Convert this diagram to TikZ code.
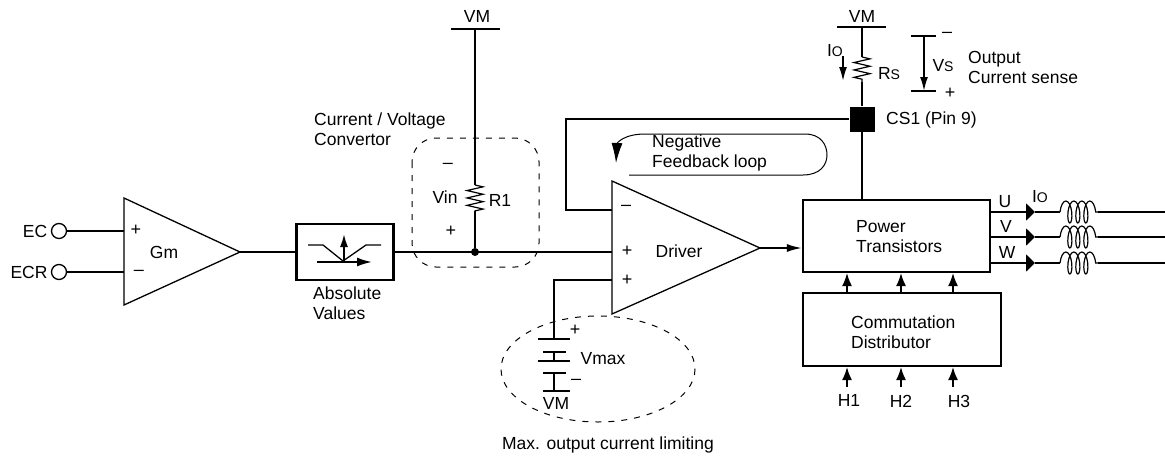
\documentclass[tikz,border=0pt]{standalone}
\usepackage{fontspec}
\setmainfont{Liberation Sans}
\usetikzlibrary{arrows.meta, decorations.pathmorphing}

\tikzset{
	wire/.style={line width=1.8pt},
	thin wire/.style={line width=1.3pt},
	label/.style={inner sep=0pt, text height=12.5pt, text depth=0pt},
	sign/.style={inner sep=0pt, font=\fontsize{18}{18}\selectfont},
	para/.style={inner sep=0pt, anchor=west, align=left},
	ring/.style={dashed, dash pattern=on 6pt off 7pt, line width=1pt},
	resistor/.style={decorate, decoration={zigzag, amplitude=8pt, segment length=7.4pt}, line width=1.2pt},
	inductor/.style={decorate, decoration={coil, aspect=0.35, amplitude=11pt, segment length=8pt}, line width=1.2pt},
	up arrow/.style={wire, -{Latex[length=13pt, width=10pt]}},
}
\newcommand{\lowO}{I{\fontsize{14}{14}\selectfont O}}

\begin{document}
\begin{tikzpicture}[x=1pt, y=-1pt, font=\fontsize{17.5}{20}\selectfont]
	\useasboundingbox (0,0) rectangle (1165,456);

	% input stage
	\coordinate (GmA) at (124,198);
	\coordinate (GmB) at (124,305);
	\coordinate (GmC) at (240,252);
	\draw [thin wire, line join=miter] (GmA) -- (GmC) -- (GmB) -- cycle;
	\node [label] (Gm) at (164,252) {Gm};
	\node [sign] (GmP) at (136,230) {+};
	\node [sign] (GmN) at (139,273) {--};
	\foreach \name/\y/\xl in {EC/231/35, ECR/272/29}{
		\node [circle, draw, thin wire, minimum size=15pt, inner sep=0pt] (\name) at (59,\y) {};
		\node [label] (\name T) at (\xl,\y) {\name};
		\coordinate (\name G) at (124,\y);
		\draw [wire] (\name) -- (\name G);}

	\node [draw, line width=2.2pt, minimum width=97pt, minimum height=56pt, inner sep=0pt] (Abs) at (345,252) {};
	\node [para] (AbsT) at (313,303) {Absolute\\Values};
	\draw [wire] (GmC) -- (Abs);
	\draw [thin wire] (308,245) -- (323,245) -- (343,261) -- (366,245) -- (381,245);
	\draw [wire, -{Latex[length=13pt, width=8pt]}] (344,261) -- (344,234);
	\draw [wire, -{Latex[length=15pt, width=9pt]}] (317,262) -- (372,262);

	% current / voltage convertor
	\node [label] (VMa) at (477,16) {VM};
	\coordinate (VMaL) at (451,29);
	\coordinate (VMaR) at (500,29);
	\coordinate (VMaC) at (475,29);
	\coordinate (RaT) at (475,185);
	\coordinate (RaB) at (475,211);
	\draw [wire] (VMaL) -- (VMaR);
	\draw [wire] (VMaC) -- (RaT);
	\draw [resistor] (RaT) -- (RaB);
	\node [circle, fill, minimum size=8pt, inner sep=0pt] (Sum) at (475,252) {};
	\draw [wire] (RaB) -- (Sum);
	\node [label] (Ra) at (500,200) {R1};
	\node [label] (Vin) at (445,197) {Vin};
	\node [sign] (VinN) at (448,166) {--};
	\node [sign] (VinP) at (451,231) {+};
	\node [para] (ConvT) at (314,129) {Current / Voltage\\Convertor};
	\draw [ring, rounded corners=24pt] (412,138) rectangle (539,267);

	% driver
	\coordinate (DrA) at (612,181);
	\coordinate (DrB) at (612,314);
	\coordinate (DrC) at (760,248);
	\draw [thin wire, line join=miter] (DrA) -- (DrC) -- (DrB) -- cycle;
	\node [label] (Dr) at (679,251) {Driver};
	\node [sign] (DrN) at (626,208) {--};
	\node [sign] (DrP) at (627,251) {+};
	\node [sign] (DrQ) at (627,280) {+};
	\coordinate (DrIn) at (612,252);
	\draw [wire] (Abs.east) -- (DrIn);

	% current limit
	\coordinate (DrLim) at (612,280);
	\coordinate (BatA) at (554,339);
	\draw [wire] (DrLim) -- (BatA |- DrLim) -- (BatA);
	\foreach \yb/\xl/\xr in {339/538/570, 352/543/566, 361/538/570, 373/543/566, 391/543/570}
		\draw [wire] (\xl,\yb) -- (\xr,\yb);
	\draw [wire] (554,352) -- (554,361);
	\draw [wire] (554,373) -- (554,391);
	\node [sign] (BatP) at (575,330) {+};
	\node [sign] (BatN) at (576,382) {--};
	\node [label] (Vmax) at (603,358) {Vmax};
	\node [label] (VMb) at (556,403) {VM};
	\draw [ring] (598,369) ellipse [x radius=97, y radius=53];
	\node [label] (Lim) at (608,443) {Max. output current limiting};

	% power stage
	\node [draw, line width=2.2pt, minimum width=187pt, minimum height=72pt, inner sep=0pt] (Pow) at (896.5,236) {};
	\node [para] (PowT) at (856,237) {Power\\Transistors};
	\node [draw, line width=2.2pt, minimum width=198pt, minimum height=73pt, inner sep=0pt] (Com) at (902,329.5) {};
	\node [para] (ComT) at (851,332) {Commutation\\Distributor};
	\draw [wire, -{Latex[length=15pt, width=8pt]}] (DrC) -- (Pow.west |- DrC);
	\foreach \x [count=\xi] in {847,901,953}{
		\coordinate (ComU\xi) at (\x,293);
		\coordinate (PowD\xi) at (\x,273);
		\coordinate (ComD\xi) at (\x,367);
		\coordinate (HB\xi) at (\x,387);
		\draw [up arrow] (ComU\xi) -- (PowD\xi);
		\draw [up arrow] (HB\xi) -- (ComD\xi);}
	\node [label] (Ha) at (849,400) {H1};
	\node [label] (Hb) at (901,401) {H2};
	\node [label] (Hc) at (959,401) {H3};

	% phases
	\foreach \name/\y/\xt/\yt in {U/212/1005/201, V/237/1006/226, W/263/1007/252}{
		\coordinate (\name a) at (990,\y);
		\coordinate (\name b) at (1035,\y);
		\coordinate (\name c) at (1060,\y);
		\coordinate (\name d) at (1098,\y);
		\coordinate (\name e) at (1165,\y);
		\draw [wire, -{Triangle[length=9pt, width=17pt]}] (\name a) -- (\name b);
		\draw [wire] (\name b) -- (\name c);
		\draw [inductor] (\name c) -- (\name d);
		\draw [wire] (\name d) -- (\name e);
		\node [label] (\name T) at (\xt,\yt) {\name};}
	\node [label] (IoB) at (1040,196) {\lowO};

	% current sense
	\node [label] (VMc) at (862,16) {VM};
	\coordinate (VMcL) at (837,27);
	\coordinate (VMcR) at (886,27);
	\coordinate (VMcC) at (862,27);
	\coordinate (RsT) at (862,57);
	\coordinate (RsB) at (862,82);
	\node [fill=black, minimum size=25pt, inner sep=0pt] (CS) at (862,119) {};
	\draw [wire] (VMcL) -- (VMcR);
	\draw [wire] (VMcC) -- (RsT);
	\draw [resistor] (RsT) -- (RsB);
	\draw [wire] (RsB) -- (CS);
	\draw [wire] (CS) -- (CS |- Pow.north);
	\node [label] (Rs) at (889,73) {R{\fontsize{14}{14}\selectfont S}};
	\node [label] (IoA) at (835,50) {\lowO};
	\coordinate (IoT) at (843,56);
	\coordinate (IoD) at (843,81);
	\draw [wire, -{Latex[length=14pt, width=8pt]}] (IoT) -- (IoD);
	\node [label, anchor=west] (CST) at (886,118) {CS1 (Pin 9)};

	\coordinate (VsTL) at (911,36);
	\coordinate (VsTR) at (936,36);
	\coordinate (VsBL) at (911,91);
	\coordinate (VsBR) at (936,91);
	\coordinate (VsT) at (924,36);
	\coordinate (VsB) at (924,91);
	\draw [wire] (VsTL) -- (VsTR);
	\draw [wire] (VsBL) -- (VsBR);
	\draw [wire, -{Latex[length=14pt, width=8pt]}] (VsT) -- (VsB);
	\node [sign] (VsN) at (947,35) {--};
	\node [sign] (VsP) at (950,93) {+};
	\node [label] (Vs) at (943,65) {V{\fontsize{14}{14}\selectfont S}};
	\node [para] (SenseT) at (968,67) {Output\\Current sense};

	% feedback
	\coordinate (FbA) at (566,119);
	\coordinate (FbB) at (566,210);
	\coordinate (FbC) at (612,210);
	\draw [wire] (CS) -- (FbA) -- (FbB) -- (FbC);
	\draw [line width=1pt, {Latex[length=20pt, width=11pt]}-] (616,163) .. controls (617,143) and (624,134) .. (645,134) -- (805,134) .. controls (821,134) and (827,145) .. (827,155) .. controls (827,165) and (820,175) .. (803,175) -- (629,175);
	\node [para] (LoopT) at (652,153) {Negative\\Feedback loop};
\end{tikzpicture}
\end{document}
